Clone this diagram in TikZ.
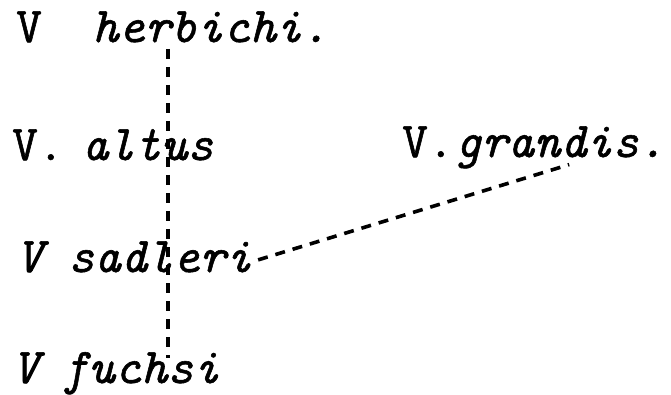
\documentclass[tikz,border=0pt]{standalone}
\usepackage{fontspec}
\newfontfamily\labfont{Latin Modern Mono}[FakeBold=1.1,ItalicFeatures={FakeBold=1.1}]
\usetikzlibrary{calc}
\begin{document}
\begin{tikzpicture}[x=1pt,y=-1pt,
  lab/.style={anchor=base west,inner sep=0pt,font=\fontsize{50}{50}\selectfont\labfont},
  link/.style={line width=3.6pt,dash pattern=on 10pt off 8pt}]
\useasboundingbox (0,0) rectangle (671,395);
% genus letters
\node[lab] (g1) at (16,42) {V};
\node[lab] (g2) at (12,160) {V.};
\node[lab] (g3) at (402,157) {V.};
\node[lab] (g4) at (16,272) {\itshape V};
\node[lab] (g5) at (12,383) {\itshape V};
% species
\node[lab] (herb) at (92,42) {\itshape herbichi.};
\node[lab] (alt) at (82,160) {\itshape altus};
\node[lab] (gra) at (455,157) {\itshape grandis.};
\node[lab] (sad) at (68,272) {\itshape sadleri};
\node[lab] (fuc) at (62,383) {\itshape fuchsi};
% connectors
\coordinate (vx) at (168,0);
\draw[link] ($(herb.base -| vx)+(0,7)$) -- ($(fuc.north -| vx)+(0,6)$);
\draw[link] ($(sad.east)+(6,3)$) -- ($(gra.south)+(9,-4)$);
\end{tikzpicture}
\end{document}
